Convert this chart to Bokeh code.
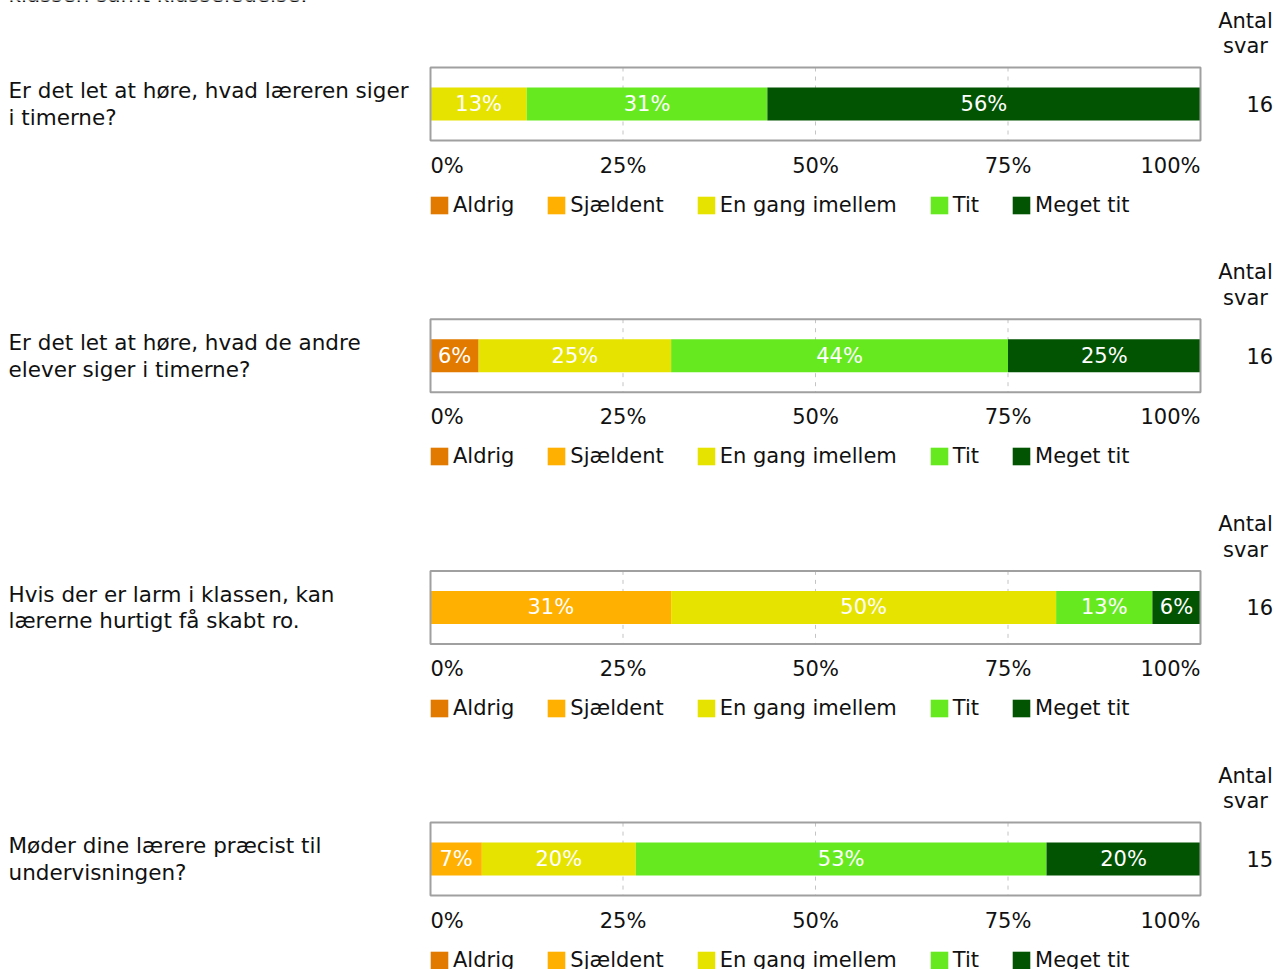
from bokeh.plotting import figure
from bokeh.models import ColumnDataSource, Range1d, Legend, LegendItem
from bokeh.core.properties import value
from bokeh.embed import file_html
from bokeh.resources import INLINE

# ---------------- data ----------------
heading_tail = "klassen samt klasseledelse."
questions = [
    "Er det let at høre, hvad læreren siger\ni timerne?",
    "Er det let at høre, hvad de andre\nelever siger i timerne?",
    "Hvis der er larm i klassen, kan\nlærerne hurtigt få skabt ro.",
    "Møder dine lærere præcist til\nundervisningen?",
]
categories = ["Aldrig", "Sjældent", "En gang imellem", "Tit", "Meget tit"]
colors = ["#E27A00", "#FFB000", "#E6E300", "#66EA1F", "#025402"]

# number of answers per category (per question)
aldrig = [0, 1, 0, 0]
sjaeldent = [0, 0, 5, 1]
en_gang = [2, 4, 8, 3]
tit = [5, 7, 2, 8]
meget_tit = [9, 4, 1, 3]
antal_svar = [16, 16, 16, 15]
count_header = "Antal\nsvar"

tick_values = [0, 25, 50, 75, 100]
tick_labels = ["0%", "25%", "50%", "75%", "100%"]
tick_align = ["left", "center", "center", "center", "right"]

# ---------------- layout (pixels) ----------------
W, H = 1276, 969
FX0, FX1 = 430, 1200          # left/right edge of the 0..100 % box
PX = (FX1 - FX0) / 100.0      # pixels per percent


def xd(px):
    return (px - FX0) / PX


FONT = value("DejaVu Sans")
FS = value("21px")
FSQ = value("21.5px")
TXT = "#111111"
LH = 1.07

box_h, bar_h = 73, 33
tops = [67 + 251.7 * i for i in range(len(questions))]
centers = [t + box_h / 2 for t in tops]

p = figure(width=W, height=H, x_range=Range1d(xd(0), xd(W)),
           y_range=Range1d(H, 0), output_backend="svg",
           toolbar_location=None, x_axis_location=None,
           y_axis_location=None, min_border=0)
p.grid.visible = False
p.outline_line_color = None
p.background_fill_color = "white"
p.border_fill_color = "white"

# dashed grid lines inside each box
gx, gy0, gy1 = [], [], []
for t in tops:
    for v in tick_values[1:-1]:
        gx.append(v)
        gy0.append(t)
        gy1.append(t + box_h)
p.segment(x0=gx, x1=gx, y0=gy0, y1=gy1, line_color="#c4c4c4",
          line_width=1, line_dash="4 5")

# stacked bars
series = [aldrig, sjaeldent, en_gang, tit, meget_tit]
data = {"y": centers}
for c, s in zip(categories, series):
    data[c] = [s[i] / antal_svar[i] * 100 for i in range(len(questions))]
src = ColumnDataSource(data)
renderers = p.hbar_stack(categories, y="y", height=bar_h, color=colors,
                         line_color=None, source=src)

# box outline
p.quad(left=[0] * len(tops), right=[100] * len(tops), top=tops,
       bottom=[t + box_h for t in tops], fill_color=None,
       line_color="#a0a0a0", line_width=2)

# percentage labels inside the bars
lx, ly, lt = [], [], []
for i in range(len(questions)):
    cum = 0
    for c in categories:
        v = data[c][i]
        if v > 0:
            lx.append(cum + v / 2)
            ly.append(centers[i])
            lt.append(f"{int(v + 0.5)}%")
        cum += v
p.text(x=lx, y=ly, text=lt, text_color="white", text_font=FONT,
       text_font_size=FS, text_align="center", text_baseline="middle")

# percent scale under each box
tx, ty, tt, ta = [], [], [], []
for t in tops:
    for v, l, a in zip(tick_values, tick_labels, tick_align):
        tx.append(v)
        ty.append(t + box_h + 25)
        tt.append(l)
        ta.append(a)
p.text(x="x", y="y", text="t", text_align="a",
       source=ColumnDataSource(dict(x=tx, y=ty, t=tt, a=ta)),
       text_color=TXT, text_font=FONT, text_font_size=FS,
       text_baseline="middle")

# question texts
p.text(x=[xd(8)] * len(questions), y=centers, text=questions,
       text_color=TXT, text_font=FONT, text_font_size=FSQ,
       text_align="left", text_baseline="middle", text_line_height=LH)

# "Antal svar" header and counts
p.text(x=[xd(1245)] * len(tops), y=[t - 34 for t in tops],
       text=[count_header] * len(tops), text_color=TXT, text_font=FONT,
       text_font_size=FS, text_align="center", text_baseline="middle",
       text_line_height=LH)
p.text(x=[xd(1246)] * len(tops), y=centers,
       text=[str(n) for n in antal_svar], text_color=TXT, text_font=FONT,
       text_font_size=FS, text_align="left", text_baseline="middle")

# cut-off heading line at the very top
p.text(x=[xd(8)], y=[-6], text=[heading_tail], text_color=TXT,
       text_font=FONT, text_font_size=FSQ, text_align="left",
       text_baseline="alphabetic")

# one legend under each box
for t in tops:
    legend = Legend(items=[LegendItem(label=value(c), renderers=[r])
                           for c, r in zip(categories, renderers)],
                    orientation="horizontal",
                    location=(428, H - (t + 137 + 12.5)),
                    glyph_width=22, glyph_height=22, label_standoff=3,
                    spacing=31, padding=0, margin=0,
                    border_line_color=None, background_fill_alpha=0,
                    label_text_font="DejaVu Sans", label_text_font_size="21px",
                    label_text_color=TXT)
    p.add_layout(legend)

open("out.html", "w").write(file_html(p, INLINE))
